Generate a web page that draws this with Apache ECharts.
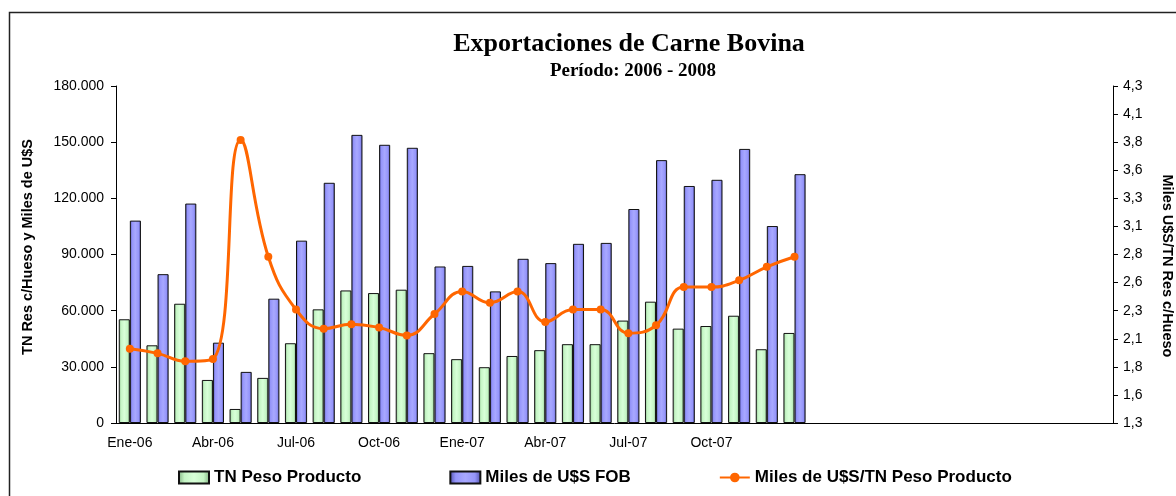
<!DOCTYPE html>
<html>
<head>
<meta charset="utf-8">
<title>Exportaciones de Carne Bovina</title>
<script src="https://cdn.jsdelivr.net/npm/echarts@6/dist/echarts.min.js"></script>
<style>
  html, body { margin: 0; padding: 0; background: #fff; }
  #chart { width: 1176px; height: 496px; }
</style>
</head>
<body>
<div id="chart"></div>
<script>
// meses (2006 - 2008), solo se rotulan los de 2006 y 2007
var meses = ['Ene-06', 'Feb-06', 'Mar-06', 'Abr-06', 'May-06', 'Jun-06', 'Jul-06', 'Ago-06', 'Sep-06', 'Oct-06', 'Nov-06', 'Dic-06',
  'Ene-07', 'Feb-07', 'Mar-07', 'Abr-07', 'May-07', 'Jun-07', 'Jul-07', 'Ago-07', 'Sep-07', 'Oct-07', 'Nov-07', 'Dic-07',
  'Ene-08', 'Feb-08', 'Mar-08', 'Abr-08', 'May-08', 'Jun-08', 'Jul-08', 'Ago-08', 'Sep-08', 'Oct-08', 'Nov-08', 'Dic-08'];
var mesesRotulados = 24;

// TN Peso Producto
var toneladas = [55400, 41500, 63700, 23000, 7500, 24100, 42600, 60700, 70800, 69400, 71200, 37300,
  34100, 29800, 35800, 38900, 42100, 42100, 54700, 64800, 50400, 51800, 57300, 39400, 48100];
// Miles de U$S FOB
var milesFob = [108100, 79500, 117200, 42900, 27300, 66400, 97400, 128300, 153900, 148600, 147000, 83600,
  83900, 70300, 87700, 85400, 95700, 96200, 114300, 140400, 126600, 129900, 146400, 105200, 132900];
// Miles de U$S / TN Peso Producto
var precio = [1.96, 1.92, 1.85, 1.87, 3.82, 2.78, 2.31, 2.14, 2.18, 2.15, 2.08, 2.27,
  2.47, 2.37, 2.47, 2.20, 2.31, 2.31, 2.10, 2.17, 2.51, 2.51, 2.57, 2.69, 2.78];

// eje derecho: 1,3 a 4,3 cada 0,25 (rotulos con un decimal, como en el original)
var ticksDer = [1.3, 1.55, 1.8, 2.05, 2.3, 2.55, 2.8, 3.05, 3.3, 3.55, 3.8, 4.05, 4.3];
var rotulosDer = ['1,3', '1,6', '1,8', '2,1', '2,3', '2,6', '2,8', '3,1', '3,3', '3,6', '3,8', '4,1', '4,3'];

var fuente = 'Liberation Sans, Arial, sans-serif';
var serif = 'Liberation Serif, Times New Roman, serif';

function relleno(claro, medio, oscuro) {
  return new echarts.graphic.LinearGradient(0, 0, 1, 0, [
    { offset: 0, color: oscuro },
    { offset: 0.2, color: medio },
    { offset: 0.5, color: claro },
    { offset: 0.8, color: medio },
    { offset: 1, color: oscuro }
  ]);
}

var myChart = echarts.init(document.getElementById('chart'));

var option = {
  backgroundColor: '#fff',
  animation: false,
  title: [
    {
      text: 'Exportaciones de Carne Bovina',
      left: 624, top: 26, textAlign: 'center',
      textStyle: { fontFamily: serif, fontSize: 26, fontWeight: 'bold', color: '#000' }
    },
    {
      text: 'Período: 2006 - 2008',
      left: 628, top: 57, textAlign: 'center',
      textStyle: { fontFamily: serif, fontSize: 19, fontWeight: 'bold', color: '#000' }
    }
  ],
  graphic: [
    {
      type: 'rect', silent: true,
      shape: { x: 9.5, y: 12.5, width: 1300, height: 600 },
      style: { fill: 'none', stroke: '#222', lineWidth: 1.5 }
    },
    {
      type: 'text', x: 28, y: 247, rotation: Math.PI / 2,
      style: {
        text: 'TN Res c/Hueso y Miles de U$S', align: 'center', verticalAlign: 'middle',
        font: 'bold 14.5px ' + fuente, fill: '#000'
      }
    },
    {
      type: 'text', x: 1167, y: 266, rotation: -Math.PI / 2,
      style: {
        text: 'Miles U$S/TN Res c/Hueso', align: 'center', verticalAlign: 'middle',
        font: 'bold 14.5px ' + fuente, fill: '#000'
      }
    }
  ],
  legend: {
    left: 173, top: 464,
    itemWidth: 30, itemHeight: 12, itemGap: 88,
    textStyle: { fontFamily: fuente, fontSize: 17, fontWeight: 'bold', color: '#000' },
    data: [
      { name: 'TN Peso Producto', icon: 'rect' },
      { name: 'Miles de U$S FOB', icon: 'rect' },
      { name: 'Miles de U$S/TN Peso Producto' }
    ]
  },
  grid: { left: 116, right: 63, top: 86, bottom: 73 },
  xAxis: {
    type: 'category',
    data: meses,
    axisLine: { lineStyle: { color: '#000', width: 1 } },
    axisTick: { interval: 0, length: 5, lineStyle: { color: '#000' } },
    axisLabel: {
      interval: 2, margin: 13,
      fontFamily: fuente, fontSize: 14, color: '#000',
      formatter: function (v, i) { return i < mesesRotulados ? v : ''; }
    }
  },
  yAxis: [
    {
      type: 'value', min: 0, max: 180000, interval: 30000,
      axisLine: { show: true, lineStyle: { color: '#000' } },
      axisTick: { show: true, length: 5, lineStyle: { color: '#000' } },
      splitLine: { show: false },
      axisLabel: {
        margin: 12, fontFamily: fuente, fontSize: 14, color: '#000',
        formatter: function (v) { return v === 0 ? '0' : String(v).replace(/\B(?=(\d{3})+(?!\d))/g, '.'); }
      }
    },
    {
      type: 'value', min: 1.3, max: 4.3, position: 'right',
      axisLine: { show: true, lineStyle: { color: '#000' } },
      axisTick: { show: true, inside: false, length: 5, customValues: ticksDer, lineStyle: { color: '#000' } },
      splitLine: { show: false },
      axisLabel: {
        margin: 10, fontFamily: fuente, fontSize: 14, color: '#000',
        customValues: ticksDer,
        formatter: function (v) {
          var i = ticksDer.findIndex(function (t) { return Math.abs(t - v) < 1e-6; });
          return i >= 0 ? rotulosDer[i] : '';
        }
      }
    }
  ],
  series: [
    {
      name: 'TN Peso Producto',
      type: 'bar',
      barGap: '0%', barCategoryGap: '20%',
      itemStyle: { color: relleno('#d8ffd8', '#c4f4c4', '#7fae7f'), borderColor: '#111', borderWidth: 1 },
      data: toneladas
    },
    {
      name: 'Miles de U$S FOB',
      type: 'bar',
      itemStyle: { color: relleno('#a8a8ff', '#9595fa', '#4d4da8'), borderColor: '#111', borderWidth: 1 },
      data: milesFob
    },
    {
      name: 'Miles de U$S/TN Peso Producto',
      type: 'line',
      yAxisIndex: 1,
      smooth: 0.45,
      symbol: 'circle', symbolSize: 8,
      lineStyle: { color: '#ff6600', width: 3 },
      itemStyle: { color: '#ff6600' },
      z: 5,
      data: precio
    }
  ]
};

myChart.setOption(option);
</script>
</body>
</html>
